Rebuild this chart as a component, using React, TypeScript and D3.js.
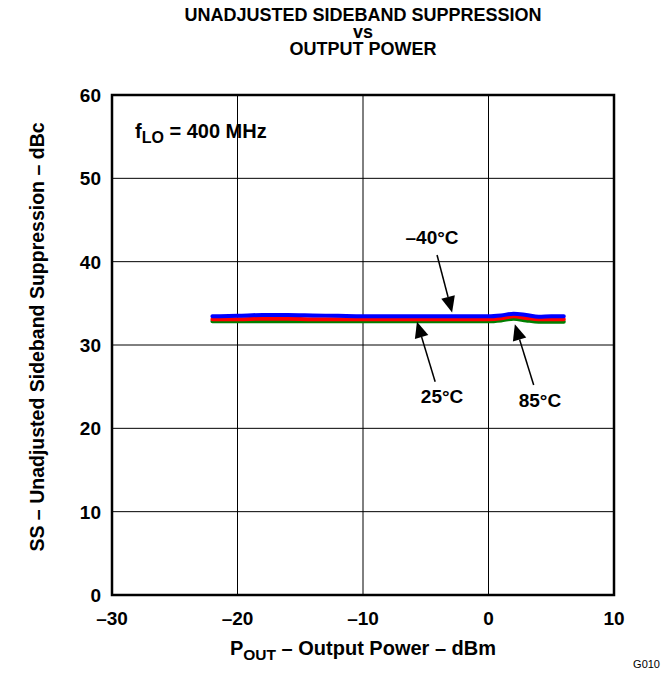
import React from "react";
import * as d3 from "d3";

const powerDbm = [-22, -20, -18, -16, -14, -12, -10, -8, -6, -4, -2, 0, 1, 2, 3, 4, 5, 6];
const ssMinus40 = [33.45, 33.5, 33.6, 33.6, 33.55, 33.5, 33.45, 33.45, 33.45, 33.45, 33.45, 33.45, 33.55, 33.75, 33.6, 33.4, 33.45, 33.45];
const ss25 = [33.1, 33.1, 33.15, 33.15, 33.1, 33.1, 33.1, 33.1, 33.1, 33.1, 33.1, 33.1, 33.2, 33.45, 33.25, 33.1, 33.1, 33.1];
const ss85 = [32.85, 32.85, 32.85, 32.85, 32.85, 32.85, 32.85, 32.85, 32.85, 32.85, 32.85, 32.85, 32.95, 33.15, 32.95, 32.8, 32.8, 32.8];
const xTicks = [-30, -20, -10, 0, 10];
const yTicks = [0, 10, 20, 30, 40, 50, 60];
const xTickLabels = ["\u201330", "\u201320", "\u201310", "0", "10"];
const titleLines = ["UNADJUSTED SIDEBAND SUPPRESSION", "vs", "OUTPUT POWER"];

const series = [
  { name: "85", values: ss85, color: "#008000" },
  { name: "25", values: ss25, color: "#ff0000" },
  { name: "-40", values: ssMinus40, color: "#0000ff" },
];

// annotations: text position, arrow start and arrow tip, in data units
const annotations = [
  { label: "\u201340\u00b0C", tx: -4.5, ty: 43.0, sx: -4.1, sy: 40.8, ex: -2.9, ey: 33.9 },
  { label: "25\u00b0C", tx: -3.7, ty: 23.9, sx: -4.25, sy: 25.6, ex: -5.7, ey: 32.8 },
  { label: "85\u00b0C", tx: 4.1, ty: 23.4, sx: 3.6, sy: 25.2, ex: 2.1, ey: 32.5 },
];

const W = 668, H = 675;
const L = 112, R = 614, T = 95, B = 595;
const FONT = "'Liberation Sans', Arial, Helvetica, sans-serif";

export default function App() {
  const x = d3.scaleLinear().domain([-30, 10]).range([L, R]);
  const y = d3.scaleLinear().domain([0, 60]).range([B, T]);
  const line = d3
    .line<[number, number]>()
    .x((d) => x(d[0]))
    .y((d) => y(d[1]))
    .curve(d3.curveMonotoneX);

  const arrow = (a: typeof annotations[0]) => {
    const x1 = x(a.sx), y1 = y(a.sy), x2 = x(a.ex), y2 = y(a.ey);
    const ang = Math.atan2(y2 - y1, x2 - x1);
    const len = 16, hw = 7;
    const bx = x2 - len * Math.cos(ang), by = y2 - len * Math.sin(ang);
    const px = -Math.sin(ang) * hw, py = Math.cos(ang) * hw;
    return (
      <g key={a.label}>
        <line x1={x1} y1={y1} x2={bx} y2={by} stroke="#000" strokeWidth={1.5} />
        <path d={`M${x2},${y2}L${bx + px},${by + py}L${bx - px},${by - py}Z`} fill="#000" />
        <text x={x(a.tx)} y={y(a.ty) + 7} textAnchor="middle" fontSize={19} fontWeight="bold" fontFamily={FONT}>
          {a.label}
        </text>
      </g>
    );
  };

  return (
    <svg width={W} height={H} style={{ position: "absolute", left: 0, top: 0, background: "#fff" }} fontFamily={FONT}>
      <rect x={0} y={0} width={W} height={H} fill="#fff" />
      <g fontWeight="bold" fontSize={18} textAnchor="middle">
        {titleLines.map((t, i) => (
          <text key={t} x={363} y={20.5 + i * 17}>
            {t}
          </text>
        ))}
      </g>
      {/* grid */}
      {xTicks.slice(1, -1).map((t) => (
        <line key={"gx" + t} x1={x(t)} x2={x(t)} y1={T} y2={B} stroke="#000" strokeWidth={1} />
      ))}
      {yTicks.slice(1, -1).map((t) => (
        <line key={"gy" + t} x1={L} x2={R} y1={y(t)} y2={y(t)} stroke="#000" strokeWidth={1} />
      ))}
      <rect x={L} y={T} width={R - L} height={B - T} fill="none" stroke="#000" strokeWidth={2.5} />
      {/* tick labels */}
      {yTicks.map((t) => (
        <text key={"yt" + t} x={101} y={y(t) + 7} textAnchor="end" fontSize={19} fontWeight="bold">
          {t}
        </text>
      ))}
      {xTicks.map((t, i) => (
        <text key={"xt" + t} x={x(t)} y={625} textAnchor="middle" fontSize={19} fontWeight="bold">
          {xTickLabels[i]}
        </text>
      ))}
      {/* series */}
      {series.map((s) => (
        <path
          key={s.name}
          d={line(powerDbm.map((p, i) => [p, s.values[i]] as [number, number])) || ""}
          fill="none"
          stroke={s.color}
          strokeWidth={4}
          strokeLinecap="round"
        />
      ))}
      {annotations.map(arrow)}
      <text x={135} y={138} fontSize={20} fontWeight="bold">
        f<tspan fontSize={16} dy={5}>LO</tspan>
        <tspan dy={-5}> = 400 MHz</tspan>
      </text>
      <text x={363} y={655} textAnchor="middle" fontSize={20} fontWeight="bold">
        P<tspan fontSize={15.5} dy={5}>OUT</tspan>
        <tspan dy={-5}> {"\u2013"} Output Power {"\u2013"} dBm</tspan>
      </text>
      <text
        transform={`translate(44,337) rotate(-90)`}
        textAnchor="middle"
        fontSize={19.5}
        fontWeight="bold"
      >
        SS {"\u2013"} Unadjusted Sideband Suppression {"\u2013"} dBc
      </text>
      <text x={660} y={668} textAnchor="end" fontSize={11}>
        G010
      </text>
    </svg>
  );
}
